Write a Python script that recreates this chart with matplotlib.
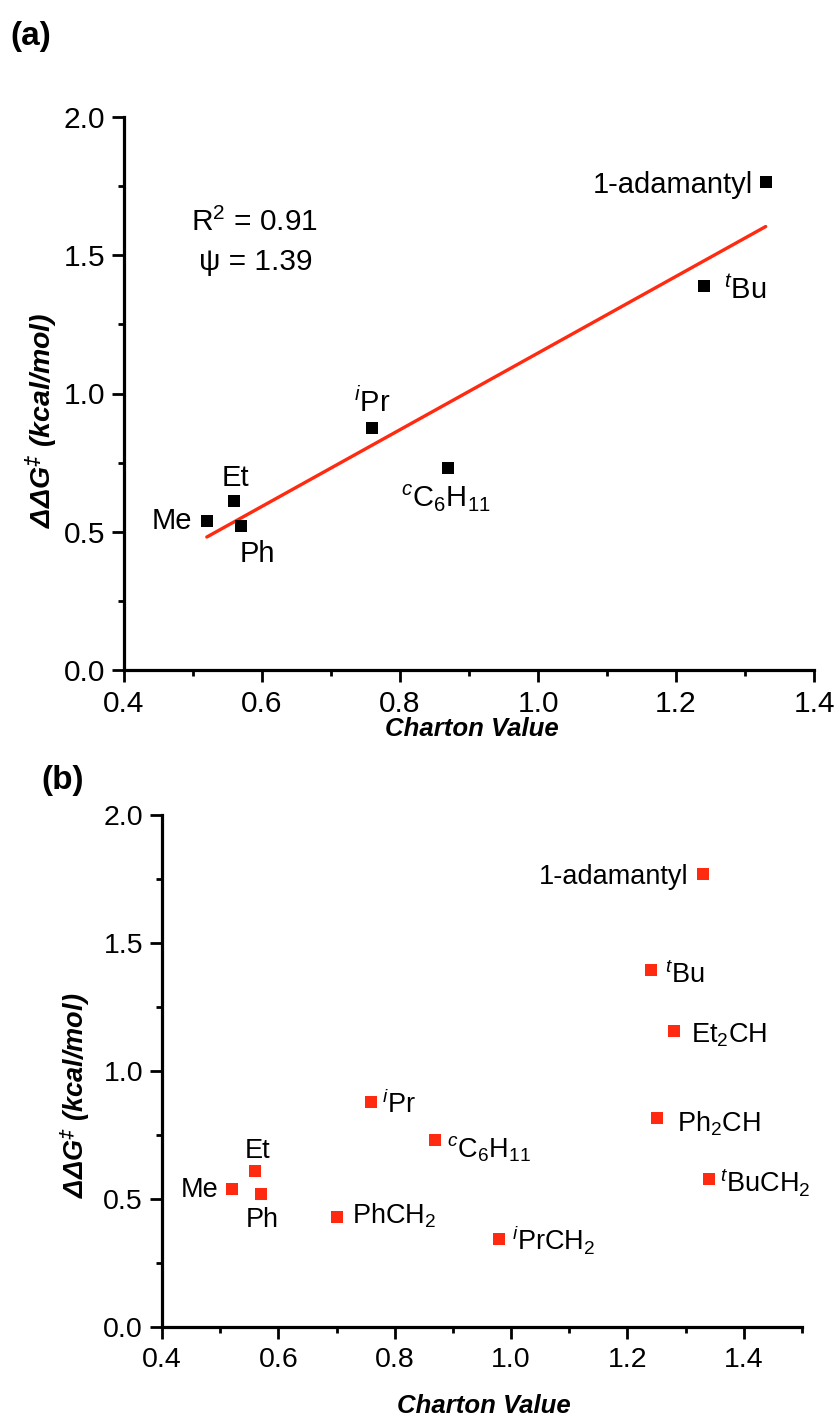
import numpy as np
import matplotlib
matplotlib.use('Agg')
import matplotlib.pyplot as plt
from matplotlib.ticker import MultipleLocator, FormatStrFormatter

plt.rcParams['font.family'] = ['Liberation Sans', 'DejaVu Sans']
plt.rcParams['mathtext.fontset'] = 'custom'
plt.rcParams['mathtext.rm'] = 'Liberation Sans'
plt.rcParams['mathtext.it'] = 'Liberation Sans:italic'
plt.rcParams['mathtext.bf'] = 'Liberation Sans:bold'
plt.rcParams['mathtext.bfit'] = 'Liberation Sans:bold:italic'

# ---------------- data ----------------
names_a = ['Me', 'Et', 'Ph', r'$^{i}$Pr', r'$^{c}$C$_{6}$H$_{11}$', r'$^{t}$Bu', '1-adamantyl']
charton_a = [0.52, 0.56, 0.57, 0.76, 0.87, 1.24, 1.33]
ddg_a = [0.54, 0.61, 0.52, 0.875, 0.73, 1.39, 1.765]

names_b = ['Me', 'Et', 'Ph', r'PhCH$_{2}$', r'$^{i}$Pr', r'$^{c}$C$_{6}$H$_{11}$',
           r'$^{i}$PrCH$_{2}$', r'Ph$_{2}$CH', r'$^{t}$Bu', r'Et$_{2}$CH', '1-adamantyl',
           r'$^{t}$BuCH$_{2}$']
charton_b = [0.52, 0.56, 0.57, 0.70, 0.76, 0.87, 0.98, 1.25, 1.24, 1.28, 1.33, 1.34]
ddg_b = [0.54, 0.61, 0.52, 0.43, 0.88, 0.73, 0.345, 0.815, 1.395, 1.155, 1.77, 0.58]

r2_text = r'R$^{2}$ = 0.91'
psi_text = 'ψ = 1.39'

xticks_a = [0.4, 0.6, 0.8, 1.0, 1.2, 1.4]
xticks_b = [0.4, 0.6, 0.8, 1.0, 1.2, 1.4]
yticks = [0.0, 0.5, 1.0, 1.5, 2.0]

# label placement (pixel offsets from marker, horizontal alignment)
off_a = [(-15, -8, 'right'), (1, 15, 'center'), (-2, -36, 'left'), (0, 16, 'center'),
         (-2, -39, 'center'), (20, -13, 'left'), (-13, -11, 'right')]
off_b = [(-13, -8, 'right'), (2, 13, 'center'), (1, -33, 'center'), (15, -7, 'left'),
         (11, -11, 'left'), (12, -17, 'left'), (13, -11, 'left'), (20, -13, 'left'),
         (14, -13, 'left'), (17, -11, 'left'), (-15, -10, 'right'), (11, -14, 'left')]

W, H = 839, 1420
fig = plt.figure(figsize=(W / 100, H / 100), dpi=100)
fig.patch.set_facecolor('white')


def rect(left, top, right, bottom):
    return [left / W, 1 - bottom / H, (right - left) / W, (bottom - top) / H]


def style(ax, xlim, xticks, lsize):
    ax.set_xlim(*xlim)
    ax.set_ylim(0, 2.0)
    for s in ['top', 'right']:
        ax.spines[s].set_visible(False)
    for s in ['left', 'bottom']:
        ax.spines[s].set_linewidth(2.3)
    ax.set_xticks(xticks)
    ax.set_yticks(yticks)
    ax.xaxis.set_minor_locator(MultipleLocator(0.1))
    ax.yaxis.set_minor_locator(MultipleLocator(0.25))
    ax.xaxis.set_major_formatter(FormatStrFormatter('%.1f'))
    ax.yaxis.set_major_formatter(FormatStrFormatter('%.1f'))
    ax.tick_params(which='major', direction='out', length=8.6, width=2.0,
                   labelsize=lsize, pad=5)
    ax.tick_params(which='minor', direction='out', length=4.5, width=2.0)
    ax.tick_params(axis='x', which='major', pad=6)


RED = '#ff2a0f'

# ---------------- panel (a) ----------------
axa = fig.add_axes(rect(124, 117, 814, 670))
style(axa, (0.4, 1.4), xticks_a, 21.5)
coef = np.polyfit(charton_a, ddg_a, 1)
xf = np.array([min(charton_a), max(charton_a)])
axa.plot(xf, np.polyval(coef, xf), color=RED, lw=2.4, zorder=2, solid_capstyle='round')
axa.plot(charton_a, ddg_a, 's', color='black', ms=8.6, mew=0, zorder=3, clip_on=False)
for n, x, y, (dx, dy, ha) in zip(names_a, charton_a, ddg_a, off_a):
    axa.annotate(n, (x, y), xytext=(dx, dy), textcoords='offset pixels',
                 ha=ha, va='baseline', fontsize=21)
axa.text(254 / W, 1 - 222 / H, r2_text, transform=fig.transFigure, ha='center',
         va='center', fontsize=21.5)
axa.text(256 / W, 1 - 262 / H, psi_text, transform=fig.transFigure, ha='center',
         va='center', fontsize=21.5)

fig.text(472 / W, 1 - 729 / H, 'Charton Value', ha='center', va='center',
         fontsize=18.5, fontweight='bold', fontstyle='italic')
fig.text(42 / W, 1 - 420 / H, r'$\mathbfit{ΔΔG}^{\mathbfit{‡}}$ (kcal/mol)', rotation=90,
         ha='center', va='center', fontsize=20.5, fontweight='bold', fontstyle='italic')
fig.text(10 / W, 1 - 37 / H, '(a)', ha='left', va='center', fontsize=24, fontweight='bold')

# ---------------- panel (b) ----------------
axb = fig.add_axes(rect(162, 815, 802, 1327))
style(axb, (0.4, 1.5), xticks_b, 20.5)
axb.plot(charton_b, ddg_b, 's', color=RED, ms=8.0, mew=0, zorder=3, clip_on=False)
for n, x, y, (dx, dy, ha) in zip(names_b, charton_b, ddg_b, off_b):
    axb.annotate(n, (x, y), xytext=(dx, dy), textcoords='offset pixels',
                 ha=ha, va='baseline', fontsize=19.5)

fig.text(484 / W, 1 - 1406 / H, 'Charton Value', ha='center', va='center',
         fontsize=18.5, fontweight='bold', fontstyle='italic')
fig.text(75 / W, 1 - 1095 / H, r'$\mathbfit{ΔΔG}^{\mathbfit{‡}}$ (kcal/mol)', rotation=90,
         ha='center', va='center', fontsize=19.5, fontweight='bold', fontstyle='italic')
fig.text(41 / W, 1 - 780 / H, '(b)', ha='left', va='center', fontsize=24, fontweight='bold')

fig.savefig('out.png', dpi=100, facecolor='white')
